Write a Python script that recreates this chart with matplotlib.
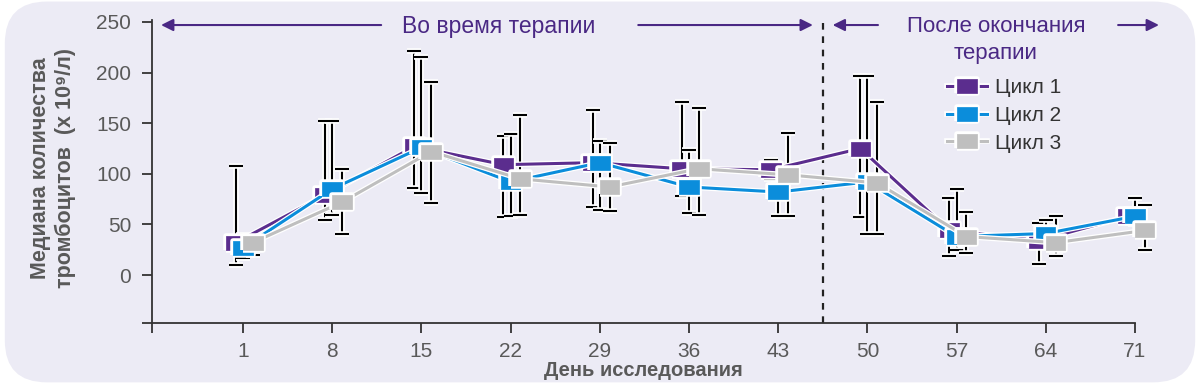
import matplotlib
matplotlib.use("Agg")
import matplotlib.pyplot as plt
import matplotlib.patheffects as pe
from matplotlib.patches import FancyBboxPatch
import numpy as np

plt.rcParams['font.family'] = ['Liberation Sans', 'DejaVu Sans']

# data
days = [1, 8, 15, 22, 29, 36, 43, 50, 57, 64, 71]
cycle1 = [32, 79, 127, 109, 111, 105, 104, 125, 44, 34, 58]
cycle1_lo = [10, 54, 86, 57, 67, 78, 95, 57, 19, 11, 52]
cycle1_hi = [108, 152, 221, 137, 163, 171, 114, 197, 76, 51, 63]
cycle2 = [27, 85, 126, 92, 111, 87, 82, 92, 38, 41, 58]
cycle2_lo = [17, 59, 81, 58, 64, 61, 58, 41, 25, 30, 50]
cycle2_hi = [40, 152, 215, 139, 132, 124, 90, 197, 85, 54, 76]
cycle3 = [32, 72, 122, 95, 87, 105, 99, 91, 38, 32, 44]
cycle3_lo = [20, 41, 71, 59, 63, 59, 58, 41, 22, 19, 25]
cycle3_hi = [37, 105, 191, 158, 130, 165, 140, 171, 62, 58, 69]
labels = ["Цикл 1", "Цикл 2", "Цикл 3"]
colors = ["#5B2D8E", "#0B8DDB", "#BFBFBF"]
offsets = [-0.08, 0.0, 0.11]

bg = "#ECEBF5"
txt = "#595959"
purple = "#4A2884"

fig = plt.figure(figsize=(12, 3.87), dpi=100)
fig.patch.set_facecolor("white")
panel = FancyBboxPatch((0.004, 0.012), 0.992, 0.984,
                       boxstyle="round,pad=0,rounding_size=0.035",
                       transform=fig.transFigure, facecolor=bg, edgecolor="none",
                       mutation_aspect=3.1, zorder=-10)
fig.patches.append(panel)

ax = fig.add_axes([0.1267, 0.1654, 0.8191, 0.7830])
ax.set_facecolor("none")

x = np.arange(len(days))
series = [(cycle1, cycle1_lo, cycle1_hi), (cycle2, cycle2_lo, cycle2_hi), (cycle3, cycle3_lo, cycle3_hi)]
halo = [pe.Stroke(linewidth=4.0, foreground="white"), pe.Normal()]
rect = [(-1, -0.72), (1, -0.72), (1, 0.72), (-1, 0.72), (-1, -0.72)]

for (vals, lo, hi), off in zip(series, offsets):
    vals = np.array(vals)
    err = [vals - np.array(lo), np.array(hi) - vals]
    eb = ax.errorbar(x + off, vals, yerr=err, fmt="none", ecolor="black",
                     elinewidth=1.5, capsize=5, capthick=1.5, zorder=2)
    for art in list(eb.lines[1]) + list(eb.lines[2]):
        art.set_path_effects(halo)
        art.set_clip_on(False)

for (vals, lo, hi), off, c, lab in zip(series, offsets, colors, labels):
    ax.plot(x + off, vals, color=c, lw=2.2, marker=rect, markersize=14,
            markeredgecolor=c, markeredgewidth=0.5, label=lab, zorder=3, clip_on=False,
            path_effects=[pe.Stroke(linewidth=4, foreground="white"), pe.Normal()])

ax.axvline(6.5, color="#222222", lw=1.6, ls=(0, (3, 3)), zorder=1)

ax.set_xlim(-1.02, 10)
ax.set_ylim(-47.4, 252)
ax.set_xticks([-1.02] + list(x))
ax.set_xticklabels([""] + [str(d) for d in days])
ax.set_yticks([-47.4, 0, 50, 100, 150, 200, 250])
ax.set_yticklabels(["", "0", "50", "100", "150", "200", "250"])
for s in ["top", "right"]:
    ax.spines[s].set_visible(False)
for s in ["left", "bottom"]:
    ax.spines[s].set_color("#333333")
    ax.spines[s].set_linewidth(1.3)
ax.tick_params(axis="both", colors="#333333", width=1.3, length=7,
               labelsize=15, labelcolor=txt, pad=8)
ax.tick_params(axis="x", pad=7)
ax.set_xlabel("День исследования", fontsize=14.5, fontweight="bold", color=txt, labelpad=0)

fig.text(0.044, 1 - 168 / 387, "Медиана количества\nтромбоцитов  (x 10⁹/л)",
         rotation=90, ha="center", va="center", fontsize=15.5, fontweight="bold",
         color=txt, multialignment="center", linespacing=1.2)

# phase annotations
ax.text(2.87, 246, "Во время терапии", ha="center", va="center", fontsize=16.5, color=purple)
ax.annotate("", xy=(-0.95, 247), xytext=(1.58, 247),
            arrowprops=dict(arrowstyle="-|>", color=purple, lw=1.5, mutation_scale=18))
ax.annotate("", xy=(6.42, 247), xytext=(4.4, 247),
            arrowprops=dict(arrowstyle="-|>", color=purple, lw=1.5, mutation_scale=18))
ax.text(8.44, 246, "После окончания", ha="center", va="center", fontsize=16, color=purple)
ax.text(8.44, 219, "терапии", ha="center", va="center", fontsize=16, color=purple)
ax.annotate("", xy=(6.58, 247), xytext=(7.15, 247),
            arrowprops=dict(arrowstyle="-|>", color=purple, lw=1.5, mutation_scale=18))
ax.annotate("", xy=(10.3, 247), xytext=(9.78, 247), annotation_clip=False,
            arrowprops=dict(arrowstyle="-|>", color=purple, lw=1.5, mutation_scale=18))

ax.legend(loc="upper left", bbox_to_anchor=(0.79, 0.87), frameon=False, fontsize=15,
          handlelength=1.9, handletextpad=0.4, labelspacing=0.42, labelcolor="#333333")

fig.savefig("out.png", dpi=100, facecolor=fig.get_facecolor())
